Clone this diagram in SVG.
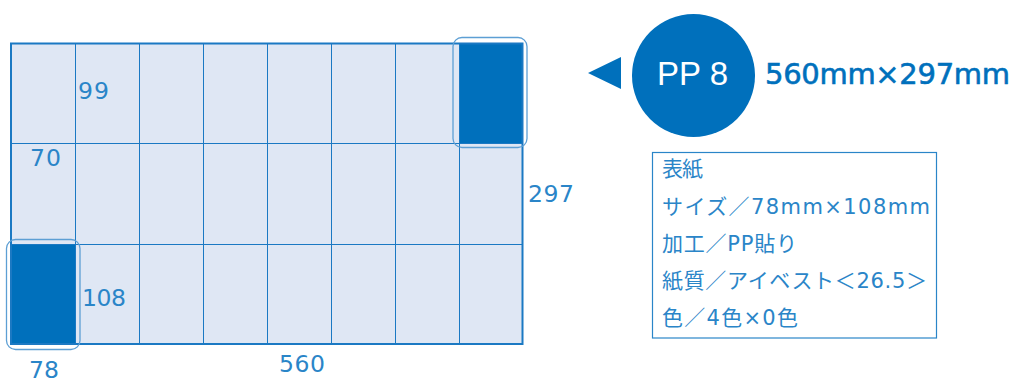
<svg xmlns="http://www.w3.org/2000/svg" width="1016" height="379" viewBox="0 0 1016 379">
<style>
.g{stroke:#1b79c3;stroke-width:1;fill:none}
.lbl{font-family:"DejaVu Sans","Liberation Sans",sans-serif;font-size:23.5px;fill:#2a85c8}
.info{font-family:"DejaVu Sans","Noto Sans CJK JP",sans-serif;font-size:21px;fill:#2a85c8}
.dark{fill:#0070bc}
.hl{fill:none;stroke:#5d9fd4;stroke-width:1.3}
</style>
<rect width="1016" height="379" fill="#ffffff"/>
<g id="sheet">
<rect x="11" y="43.5" width="511.5" height="300.5" fill="#dfe7f4"/>
<rect id="cover-top" class="dark" x="459" y="43.5" width="63.5" height="100"/>
<rect id="cover-bottom" class="dark" x="11" y="244" width="64" height="100"/>
<g class="g">
<line x1="75.5" y1="43.5" x2="75.5" y2="344"/>
<line x1="139.5" y1="43.5" x2="139.5" y2="344"/>
<line x1="203.5" y1="43.5" x2="203.5" y2="344"/>
<line x1="267.5" y1="43.5" x2="267.5" y2="344"/>
<line x1="331.5" y1="43.5" x2="331.5" y2="344"/>
<line x1="395.5" y1="43.5" x2="395.5" y2="344"/>
<line x1="459.5" y1="43.5" x2="459.5" y2="344"/>
<line x1="11" y1="143.5" x2="522.5" y2="143.5"/>
<line x1="11" y1="244.5" x2="522.5" y2="244.5"/>
</g>
<rect x="11" y="43.5" width="511.5" height="300.5" fill="none" stroke="#1b79c3" stroke-width="2"/>
<rect class="hl" x="453" y="37.5" width="74" height="110" rx="9"/>
<rect class="hl" x="6.5" y="239.5" width="73.5" height="110" rx="9"/>
</g>
<g id="labels">
<text class="lbl" x="78" y="99" textLength="31">99</text>
<text class="lbl" x="30" y="166" textLength="31">70</text>
<text class="lbl" x="82" y="306" textLength="44">108</text>
<text class="lbl" x="29" y="378" textLength="30">78</text>
<text class="lbl" x="279" y="372" textLength="46">560</text>
<text class="lbl" x="528" y="201.5" textLength="46">297</text>
</g>
<g id="title">
<polygon class="dark" points="588,73 621,57 621,89"/>
<circle class="dark" cx="693.5" cy="75.5" r="61.5"/>
<text x="657" y="85" font-family="Liberation Sans, sans-serif" font-size="33" fill="#ffffff" textLength="71">PP 8</text>
<text x="765" y="84" font-family="DejaVu Sans, sans-serif" font-size="29" fill="#0070bc" stroke="#0070bc" stroke-width="0.6" textLength="245">560mm×297mm</text>
</g>
<g id="info">
<rect x="652.5" y="152.5" width="284" height="185.5" fill="none" stroke="#2a85c8" stroke-width="1.2"/>
<text class="info" x="662" y="176" textLength="41">表紙</text>
<text class="info" x="662" y="214" textLength="268">サイズ／78mm×108mm</text>
<text class="info" x="662" y="251" textLength="135">加工／PP貼り</text>
<text class="info" x="662" y="288" textLength="265">紙質／アイベスト＜26.5＞</text>
<text class="info" x="662" y="325" textLength="136">色／4色×0色</text>
</g>
</svg>
